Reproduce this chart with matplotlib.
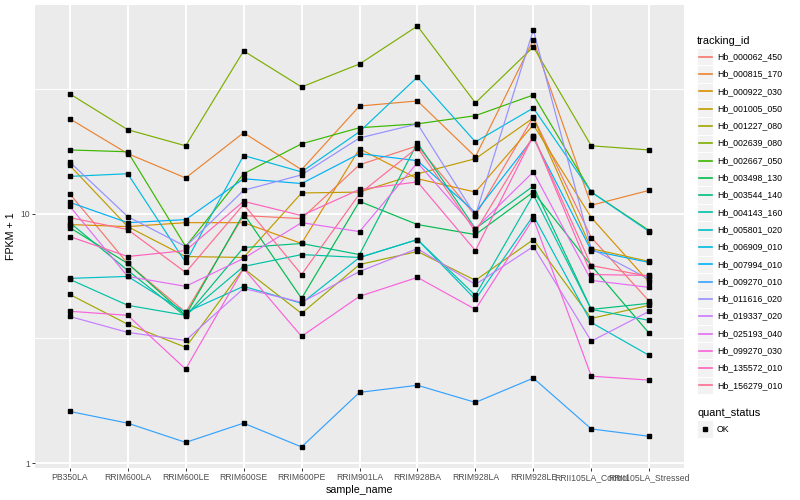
import numpy as np
import matplotlib
matplotlib.use('Agg')
import matplotlib.pyplot as plt
from matplotlib.patches import Rectangle
from matplotlib.lines import Line2D
from matplotlib.ticker import NullFormatter

plt.rcParams['font.family'] = ['Liberation Sans', 'DejaVu Sans']

samples = ['PB350LA', 'RRIM600LA', 'RRIM600LE', 'RRIM600SE', 'RRIM600PE', 'RRIM901LA',
           'RRIM928BA', 'RRIM928LA', 'RRIM928LE', 'RRII105LA_Control', 'RRII105LA_Stressed']

# FPKM per gene, one value per sample (plotted as FPKM + 1)
hb_000062_450 = [11.0, 5.31, 3.02, 8.82, 8.55, 14.7, 17.7, 8.82, 23.4, 7.02, 3.45]
hb_000815_170 = [23.0, 16.4, 12.9, 20.1, 14.0, 26.0, 27.3, 15.9, 48.7, 9.8, 11.4]
hb_000922_030 = [8.04, 7.87, 8.2, 8.2, 6.59, 17.2, 12.8, 11.2, 21.7, 8.64, 4.3]
hb_001005_050 = [14.6, 7.87, 5.73, 5.67, 11.1, 11.2, 13.45, 15.6, 23.2, 6.24, 5.43]
hb_001227_080 = [3.74, 2.6, 1.91, 5.03, 2.98, 5.25, 6.05, 4.4, 6.87, 2.8, 3.29]
hb_002639_080 = [29.2, 20.7, 17.7, 43.9, 31.2, 38.8, 55.5, 26.8, 45.6, 17.7, 17.0]
hb_002667_050 = [17.0, 16.7, 6.38, 13.45, 18.05, 21.1, 21.9, 23.7, 28.9, 11.2, 7.55]
hb_003498_130 = [7.79, 5.31, 2.91, 9.0, 3.57, 10.2, 8.04, 7.24, 11.2, 5.19, 2.31]
hb_003544_140 = [8.2, 4.92, 2.87, 6.31, 6.59, 5.85, 18.2, 7.71, 11.9, 3.13, 3.37]
hb_004143_160 = [4.45, 3.29, 2.91, 5.14, 5.85, 5.67, 6.87, 3.7, 10.9, 3.13, 2.73]
hb_005801_020 = [4.5, 4.6, 3.02, 4.11, 3.37, 5.67, 6.87, 3.53, 8.82, 2.66, 1.7]
hb_006909_010 = [13.1, 13.45, 5.37, 16.1, 13.7, 20.3, 34.3, 18.4, 25.5, 11.2, 7.47]
hb_007994_010 = [10.1, 8.2, 8.46, 12.8, 12.2, 16.4, 15.3, 9.1, 19.1, 6.11, 5.37]
hb_009270_010 = [0.61, 0.445, 0.21, 0.445, 0.16, 0.92, 1.05, 0.75, 1.19, 0.37, 0.28]
hb_011616_020 = [15.1, 8.73, 6.38, 11.4, 13.3, 19.1, 21.9, 8.82, 53.5, 6.24, 4.45]
hb_019337_020 = [2.87, 2.34, 2.1, 4.01, 3.41, 4.86, 6.24, 4.2, 6.38, 2.08, 3.06]
hb_025193_040 = [9.7, 4.6, 4.11, 5.61, 8.2, 7.47, 15.0, 7.71, 13.7, 4.4, 4.06]
hb_099270_030 = [3.06, 2.91, 1.38, 5.03, 2.22, 3.66, 4.55, 3.13, 8.55, 1.23, 1.15]
hb_135572_010 = [7.09, 5.73, 6.11, 10.2, 8.82, 11.5, 12.4, 6.11, 19.5, 4.7, 4.65]
hb_156279_010 = [8.64, 7.63, 4.81, 9.9, 4.7, 11.0, 17.4, 7.47, 19.5, 5.19, 4.6]

gene_ids = ['Hb_000062_450', 'Hb_000815_170', 'Hb_000922_030', 'Hb_001005_050',
            'Hb_001227_080', 'Hb_002639_080', 'Hb_002667_050', 'Hb_003498_130',
            'Hb_003544_140', 'Hb_004143_160', 'Hb_005801_020', 'Hb_006909_010',
            'Hb_007994_010', 'Hb_009270_010', 'Hb_011616_020', 'Hb_019337_020',
            'Hb_025193_040', 'Hb_099270_030', 'Hb_135572_010', 'Hb_156279_010']
gene_values = [hb_000062_450, hb_000815_170, hb_000922_030, hb_001005_050,
               hb_001227_080, hb_002639_080, hb_002667_050, hb_003498_130,
               hb_003544_140, hb_004143_160, hb_005801_020, hb_006909_010,
               hb_007994_010, hb_009270_010, hb_011616_020, hb_019337_020,
               hb_025193_040, hb_099270_030, hb_135572_010, hb_156279_010]

# ggplot2 default hue palette for 20 levels
colours = ['#F8766D', '#EA8331', '#D89000', '#C09B00', '#A3A500', '#7CAE00', '#39B600',
           '#00BB4E', '#00BF7D', '#00C1A3', '#00BFC4', '#00BAE0', '#00B0F6', '#35A2FF',
           '#9590FF', '#C77CFF', '#E76BF3', '#FA62DB', '#FF62BC', '#FF6C91']

W, H = 800, 500
fig = plt.figure(figsize=(W / 100, H / 100), dpi=100)
ax = fig.add_axes([35 / W, 1 - 468 / H, (684 - 35) / W, (468 - 5) / H])
ax.set_facecolor('#EBEBEB')
for s in ax.spines.values():
    s.set_visible(False)

x = np.arange(len(samples))
for vals, col in zip(gene_values, colours):
    ax.plot(x, np.array(vals) + 1, color=col, lw=0.85, zorder=3)
for vals in gene_values:
    ax.plot(x, np.array(vals) + 1, ls='none', marker='s', ms=2.6, color='black',
            mec='black', zorder=4)

ax.set_yscale('log')
allv = np.log10(np.concatenate([np.array(v) + 1 for v in gene_values]))
lo, hi = allv.min(), allv.max()
pad = 0.05 * (hi - lo)
ax.set_ylim(10 ** (lo - pad), 10 ** (hi + pad))
ax.set_xlim(-0.6, len(samples) - 0.4)

ax.set_yticks([1, 10])
ax.set_yticklabels(['1', '10'])
ax.set_yticks([10 ** 0.5, 10 ** 1.5], minor=True)
ax.yaxis.set_minor_formatter(NullFormatter())
ax.set_xticks(x)
ax.set_xticklabels(samples)

ax.grid(True, which='major', color='white', lw=1.4, zorder=0)
ax.grid(True, which='minor', axis='y', color='white', lw=0.7, zorder=0)
ax.set_axisbelow(True)
ax.tick_params(which='major', length=2.3, width=0.7, color='#333333',
               labelsize=6.2, labelcolor='#4D4D4D', pad=1.5)
ax.tick_params(which='minor', length=0)

ax.set_xlabel('sample_name', fontsize=7.7, labelpad=2)
ax.set_ylabel('FPKM + 1', fontsize=7.7, labelpad=3)


def fx(px):
    return px / W


def fy(py):
    return 1 - py / H


# legend drawn like ggplot's guide boxes
fig.text(fx(697), fy(41), 'tracking_id', fontsize=7.9, va='center', ha='left')
for i, (name, col) in enumerate(zip(gene_ids, colours)):
    yc = 56.7 + i * 17.3
    fig.add_artist(Rectangle((fx(697), fy(yc + 8.65)), 16 / W, 17.3 / H,
                             transform=fig.transFigure, facecolor='#F2F2F2',
                             edgecolor='white', lw=0.7, zorder=1))
    fig.add_artist(Line2D([fx(698.5), fx(711.5)], [fy(yc), fy(yc)], color=col,
                          lw=1.2, transform=fig.transFigure, zorder=2))
    fig.text(fx(717), fy(yc), name, fontsize=6.3, va='center', ha='left')

fig.text(fx(697), fy(413), 'quant_status', fontsize=7.9, va='center', ha='left')
fig.add_artist(Rectangle((fx(697), fy(429 + 8.65)), 16 / W, 17.3 / H,
                         transform=fig.transFigure, facecolor='#F2F2F2',
                         edgecolor='white', lw=0.7, zorder=1))
fig.add_artist(Line2D([fx(705)], [fy(429)], ls='none', marker='s', ms=2.6,
                      color='black', transform=fig.transFigure, zorder=2))
fig.text(fx(717), fy(429), 'OK', fontsize=6.3, va='center', ha='left')

fig.savefig('out.png', dpi=100, facecolor='white')
